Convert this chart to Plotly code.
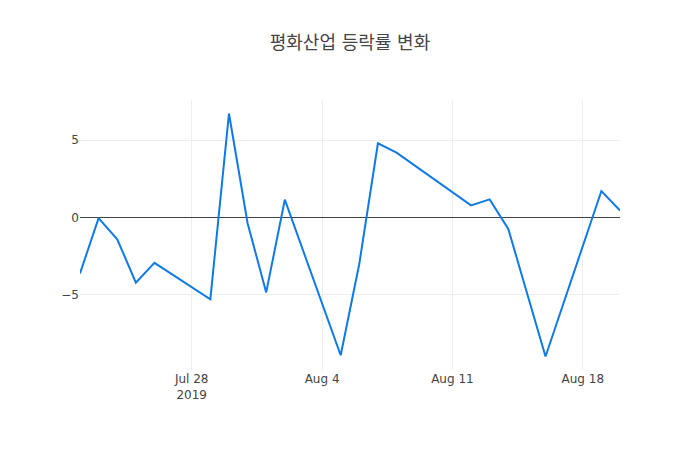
import plotly.graph_objects as go

dates = ["2019-07-22", "2019-07-23", "2019-07-24", "2019-07-25", "2019-07-26",
         "2019-07-29", "2019-07-30", "2019-07-31", "2019-08-01", "2019-08-02",
         "2019-08-05", "2019-08-06", "2019-08-07", "2019-08-08", "2019-08-12",
         "2019-08-13", "2019-08-14", "2019-08-16", "2019-08-19", "2019-08-20"]
rates = [-3.62, -0.04, -1.41, -4.22, -2.94,
         -5.30, 6.73, -0.37, -4.85, 1.15,
         -8.92, -3.00, 4.80, 4.20, 0.78,
         1.17, -0.74, -9.00, 1.71, 0.45]

fig = go.Figure()
fig.add_scatter(x=dates, y=rates, mode="lines",
                line=dict(color="#0f7ae5", width=2))

# page has an 8px body margin, so pull the plot area back by 8px
fig.update_layout(
    title=dict(text="평화산업 등락률 변화", x=0.5, xref="paper",
               xanchor="center", y=1 - 35 / 450, yref="container",
               yanchor="middle", font=dict(size=18, color="#444")),
    template="plotly_white",
    font=dict(family="Verdana, DejaVu Sans, Noto Sans CJK KR, sans-serif",
              color="#444", size=12),
    width=700, height=450,
    margin=dict(l=72, r=88, t=92, b=88),
    showlegend=False,
)
fig.update_xaxes(showgrid=True, gridcolor="#eee", dtick=7 * 86400000,
                 tick0="2019-07-28")
fig.update_yaxes(showgrid=True, gridcolor="#eee", zeroline=True,
                 zerolinecolor="#444", zerolinewidth=1, tickvals=[-5, 0, 5])

fig.write_html("out.html")
